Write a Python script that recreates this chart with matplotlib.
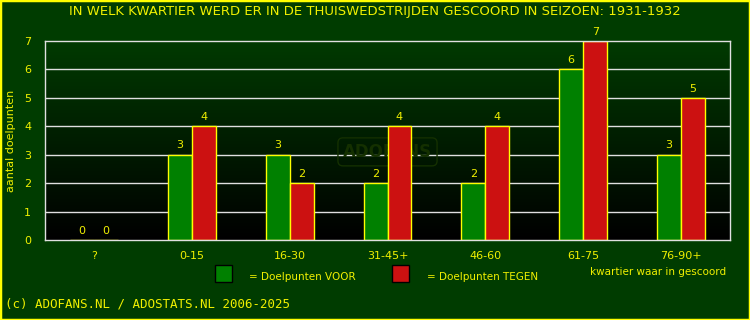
import matplotlib
matplotlib.use("Agg")
import matplotlib.pyplot as plt
from matplotlib.patches import Rectangle
import numpy as np

# data
kwartieren = ["?", "0-15", "16-30", "31-45+", "46-60", "61-75", "76-90+"]
voor = [0, 3, 3, 2, 2, 6, 3]
tegen = [0, 4, 2, 4, 4, 7, 5]

GEEL = "#f0f000"
BG = "#003c00"
GROEN = "#008000"
ROOD = "#cc1111"

fig = plt.figure(figsize=(7.5, 3.2), dpi=100, facecolor=BG)
# gele rand rond de figuur
fig.patches.append(Rectangle((0, 0), 1, 1, transform=fig.transFigure,
                             fill=False, edgecolor="#ffff00", linewidth=2.5))

ax = fig.add_axes([45 / 750, 1 - 240 / 320, 685 / 750, 199 / 320])
ax.set_xlim(-0.5, len(kwartieren) - 0.5)
ax.set_ylim(0, 7)

# achtergrond met verloop (donkergroen -> zwart)
grad = np.linspace(0, 1, 256).reshape(-1, 1)
ax.imshow(grad, extent=[-0.5, len(kwartieren) - 0.5, 0, 7], aspect="auto",
          origin="lower", cmap=matplotlib.colors.LinearSegmentedColormap.from_list(
              "bg", ["#000000", "#003a00"]), zorder=0)

for y in range(1, 7):
    ax.axhline(y, color="#e0e0e0", linewidth=1, zorder=1)

# watermerk
ax.text(3, 3.1, "ADOFANS", color="#143000", fontsize=12, fontweight="bold",
        ha="center", va="center", zorder=1.5,
        bbox=dict(boxstyle="round,pad=0.3", facecolor="none", edgecolor="#143000"))

x = np.arange(len(kwartieren))
w = 0.245
ax.bar(x - w / 2, voor, w, color=GROEN, edgecolor="#ffff00", linewidth=1, zorder=2)
ax.bar(x + w / 2, tegen, w, color=ROOD, edgecolor="#ffff00", linewidth=1, zorder=2)

for i in range(len(kwartieren)):
    ax.text(x[i] - w / 2, voor[i] + 0.15, str(voor[i]), color=GEEL, fontsize=8,
            ha="center", va="bottom", zorder=3)
    ax.text(x[i] + w / 2, tegen[i] + 0.15, str(tegen[i]), color=GEEL, fontsize=8,
            ha="center", va="bottom", zorder=3)

ax.set_xticks(x)
ax.set_xticklabels(kwartieren)
ax.set_yticks(range(0, 8))
ax.tick_params(colors=GEEL, labelsize=8, length=0, pad=8)
ax.tick_params(axis="y", pad=10)
for s in ax.spines.values():
    s.set_color("#e0e0e0")
    s.set_linewidth(1)
ax.set_ylabel("aantal doelpunten", color=GEEL, fontsize=8, labelpad=6)

fig.text(0.5, 1 - 12 / 320, "IN WELK KWARTIER WERD ER IN DE THUISWEDSTRIJDEN GESCOORD IN SEIZOEN: 1931-1932",
         color=GEEL, fontsize=9.5, ha="center", va="center")

# legenda
fig.patches.append(Rectangle((215 / 750, 1 - 282 / 320), 17 / 750, 17 / 320,
                             transform=fig.transFigure, facecolor=GROEN, edgecolor="black", linewidth=1))
fig.text(249 / 750, 1 - 277 / 320, "= Doelpunten VOOR", color=GEEL, fontsize=7.5, va="center")
fig.patches.append(Rectangle((392 / 750, 1 - 282 / 320), 17 / 750, 17 / 320,
                             transform=fig.transFigure, facecolor=ROOD, edgecolor="black", linewidth=1))
fig.text(427 / 750, 1 - 277 / 320, "= Doelpunten TEGEN", color=GEEL, fontsize=7.5, va="center")
fig.text(590 / 750, 1 - 272 / 320, "kwartier waar in gescoord", color=GEEL, fontsize=7.5, va="center")

fig.text(5 / 750, 1 - 304 / 320, "(c) ADOFANS.NL / ADOSTATS.NL 2006-2025", color=GEEL,
         fontsize=9, family="DejaVu Sans Mono", va="center")

fig.savefig("out.png", dpi=100, facecolor=BG)
